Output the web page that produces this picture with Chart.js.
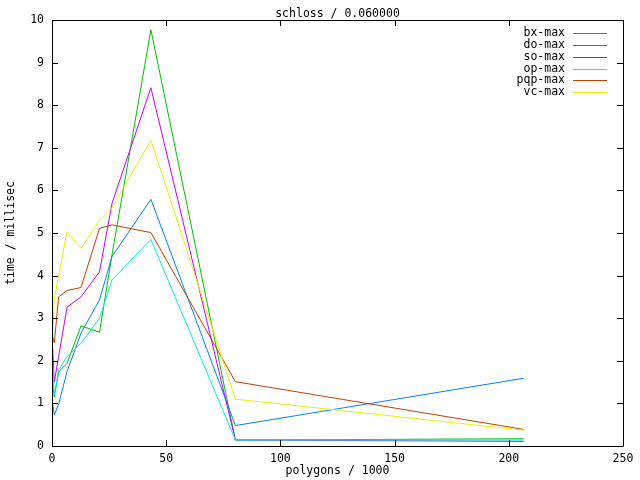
<!DOCTYPE html>
<html>
<head>
<meta charset="utf-8">
<script src="https://cdn.jsdelivr.net/npm/chart.js@4/dist/chart.umd.min.js"></script>
<style>
  html, body { margin: 0; padding: 0; background: #fff; }
  #wrap { width: 640px; height: 480px; }
</style>
</head>
<body>
<div id="wrap"><canvas id="plot"></canvas></div>
<script>
// polygons / 1000
var polygons = [0.3, 1.0, 2.9, 6.6, 12.7, 20.8, 26.3, 43.3, 80.3, 206.5];
// time / millisec
var bxMax  = [1.5, 1.15, 1.74, 1.94, 2.82, 2.67, 4.5, 9.77, 0.14, 0.17];
var doMax  = [1.0, 0.73, 0.98, 1.75, 2.65, 3.43, 4.45, 5.79, 0.48, 1.59];
var soMax  = [2.3, 1.5, 2.1, 3.26, 3.5, 4.09, 5.7, 8.41, 0.14, 0.11];
var opMax  = [1.9, 1.2, 1.78, 2.1, 2.41, 3.0, 3.9, 4.85, 0.14, 0.14];
var pqpMax = [2.57, 2.42, 3.5, 3.65, 3.72, 5.11, 5.19, 5.01, 1.51, 0.39];
var vcMax  = [2.5, 3.47, 4.0, 5.03, 4.64, 5.3, 5.6, 7.18, 1.10, 0.37];

var seriesNames = ["bx-max", "do-max", "so-max", "op-max", "pqp-max", "vc-max"];
var seriesData = [bxMax, doMax, soMax, opMax, pqpMax, vcMax];
var seriesColors = ["#00c000", "#0080ff", "#c000ff", "#00eeee", "#c04000", "#eeee00"];

var FONT = "11.5px 'DejaVu Sans Mono', monospace";

var datasets = seriesData.map(function (vals, i) {
  return {
    label: seriesNames[i],
    data: vals.map(function (v, j) { return { x: polygons[j], y: v }; }),
    borderColor: seriesColors[i],
    backgroundColor: seriesColors[i],
    borderWidth: 1,
    pointRadius: 0,
    tension: 0,
    fill: false,
    order: seriesData.length - i   // gnuplot draws later series on top
  };
});

// frame, inward ticks, titles and key, gnuplot style
var gnuplotLook = {
  id: 'gnuplotLook',
  afterDraw: function (chart) {
    var c = chart.ctx, a = chart.chartArea;
    var xs = chart.scales.x, ys = chart.scales.y;
    c.save();
    c.strokeStyle = "#000";
    c.lineWidth = 1;
    c.beginPath();
    c.rect(Math.round(a.left) + 0.5, Math.round(a.top) + 0.5,
           Math.round(a.right - a.left), Math.round(a.bottom - a.top));
    xs.ticks.forEach(function (t) {
      var px = Math.round(xs.getPixelForValue(t.value)) + 0.5;
      c.moveTo(px, a.bottom); c.lineTo(px, a.bottom - 6);
      c.moveTo(px, a.top);    c.lineTo(px, a.top + 6);
    });
    ys.ticks.forEach(function (t) {
      var py = Math.round(ys.getPixelForValue(t.value)) + 0.5;
      c.moveTo(a.left, py);  c.lineTo(a.left + 6, py);
      c.moveTo(a.right, py); c.lineTo(a.right - 6, py);
    });
    c.stroke();

    c.fillStyle = "#000";
    c.font = FONT;
    c.textAlign = "center";
    c.textBaseline = "middle";
    var cx = (a.left + a.right) / 2;
    c.fillText("schloss / 0.060000", cx, 14);
    c.fillText("polygons / 1000", cx, 471);
    c.save();
    c.translate(11, (a.top + a.bottom) / 2);
    c.rotate(-Math.PI / 2);
    c.fillText("time / millisec", 0, 0);
    c.restore();

    // key
    c.textAlign = "right";
    seriesNames.forEach(function (name, i) {
      var y = 33 + i * 11.85;
      c.fillStyle = "#000";
      c.fillText(name, 565, y);
      c.fillStyle = seriesColors[i];
      c.fillRect(573, Math.round(y), 34, 1);
    });
    c.restore();
  }
};

new Chart(document.getElementById("plot"), {
  type: 'line',
  data: { datasets: datasets },
  plugins: [gnuplotLook],
  options: {
    responsive: true,
    maintainAspectRatio: false,
    animation: false,
    layout: { padding: { top: 20, right: 17, left: 0, bottom: 0 } },
    plugins: {
      legend: { display: false },
      tooltip: { enabled: false }
    },
    scales: {
      x: {
        type: 'linear',
        min: 0, max: 250,
        grid: { display: false, drawTicks: false },
        border: { display: false },
        ticks: { stepSize: 50, maxRotation: 0, padding: 6, color: "#000",
                 font: { family: "'DejaVu Sans Mono', monospace", size: 11.5 } },
        afterFit: function (s) { s.height = 34; }
      },
      y: {
        type: 'linear',
        min: 0, max: 10,
        grid: { display: false, drawTicks: false },
        border: { display: false },
        ticks: { stepSize: 1, padding: 8, color: "#000",
                 font: { family: "'DejaVu Sans Mono', monospace", size: 11.5 } },
        afterFit: function (s) { s.width = 52; }
      }
    }
  }
});
</script>
</body>
</html>
